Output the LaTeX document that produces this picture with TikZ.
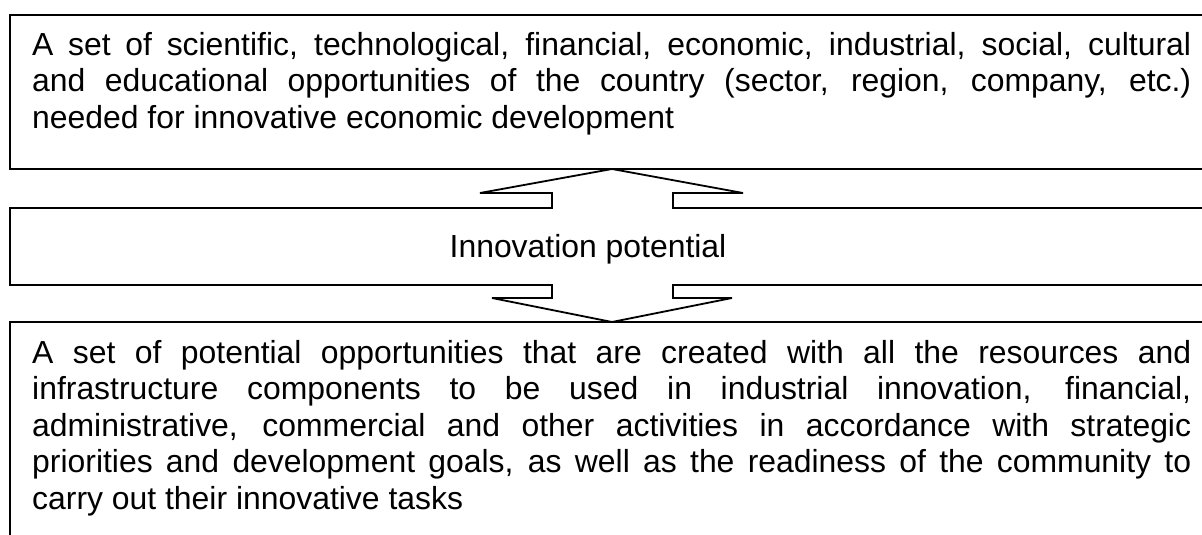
\documentclass[tikz,border=0pt]{standalone}
\usepackage{fontspec}
\setmainfont{Liberation Sans}
\usetikzlibrary{positioning}
\definecolor{ink}{HTML}{000000}

\tikzset{
  boxtext/.style={anchor=north west,inner sep=0pt,text width=1159pt,align=justify,
    font=\fontsize{31.9}{36.5}\selectfont,text=ink},
  frame/.style={draw=ink,line width=1.8pt,line join=miter},
}

\begin{document}
\begin{tikzpicture}[x=1pt,y=-1pt]
  \useasboundingbox (0,0) rectangle (1202,535);
  \def\xl{10}\def\xr{1214}
  % upper box
  \draw[frame] (\xl,15) rectangle (\xr,169);
  % middle box, both arrows cut into its edges
  \draw[frame] (\xl,208) -- (552,208) -- (552,193) -- (480,193) -- (612,169)
    -- (743,193) -- (673,193) -- (673,208) -- (\xr,208) -- (\xr,285)
    -- (673,285) -- (673,298) -- (732,298) -- (612,322) -- (492,298)
    -- (552,298) -- (552,285) -- (\xl,285) -- cycle;
  % lower box
  \draw[frame] (\xl,322) rectangle (\xr,550);
  % texts
  \node[boxtext] (opportunities) at (32,32) {\noindent A set of scientific, technological,
    financial, economic, industrial, social, cultural\linebreak and educational opportunities
    of the country (sector, region, company, etc.)\linebreak needed for innovative economic
    development};
  \node[font=\fontsize{31.9}{36.5}\selectfont,text=ink,anchor=base,inner sep=0pt]
    (potential) at (588,257) {Innovation potential};
  \node[boxtext] (potentialset) at (32,340) {\noindent A set of potential opportunities that
    are created with all the resources and\linebreak infrastructure components to be used in
    industrial innovation, financial,\linebreak administrative, commercial and other activities
    in accordance with strategic\linebreak priorities and development goals, as well as the
    readiness of the community to\linebreak carry out their innovative tasks};
\end{tikzpicture}
\end{document}
